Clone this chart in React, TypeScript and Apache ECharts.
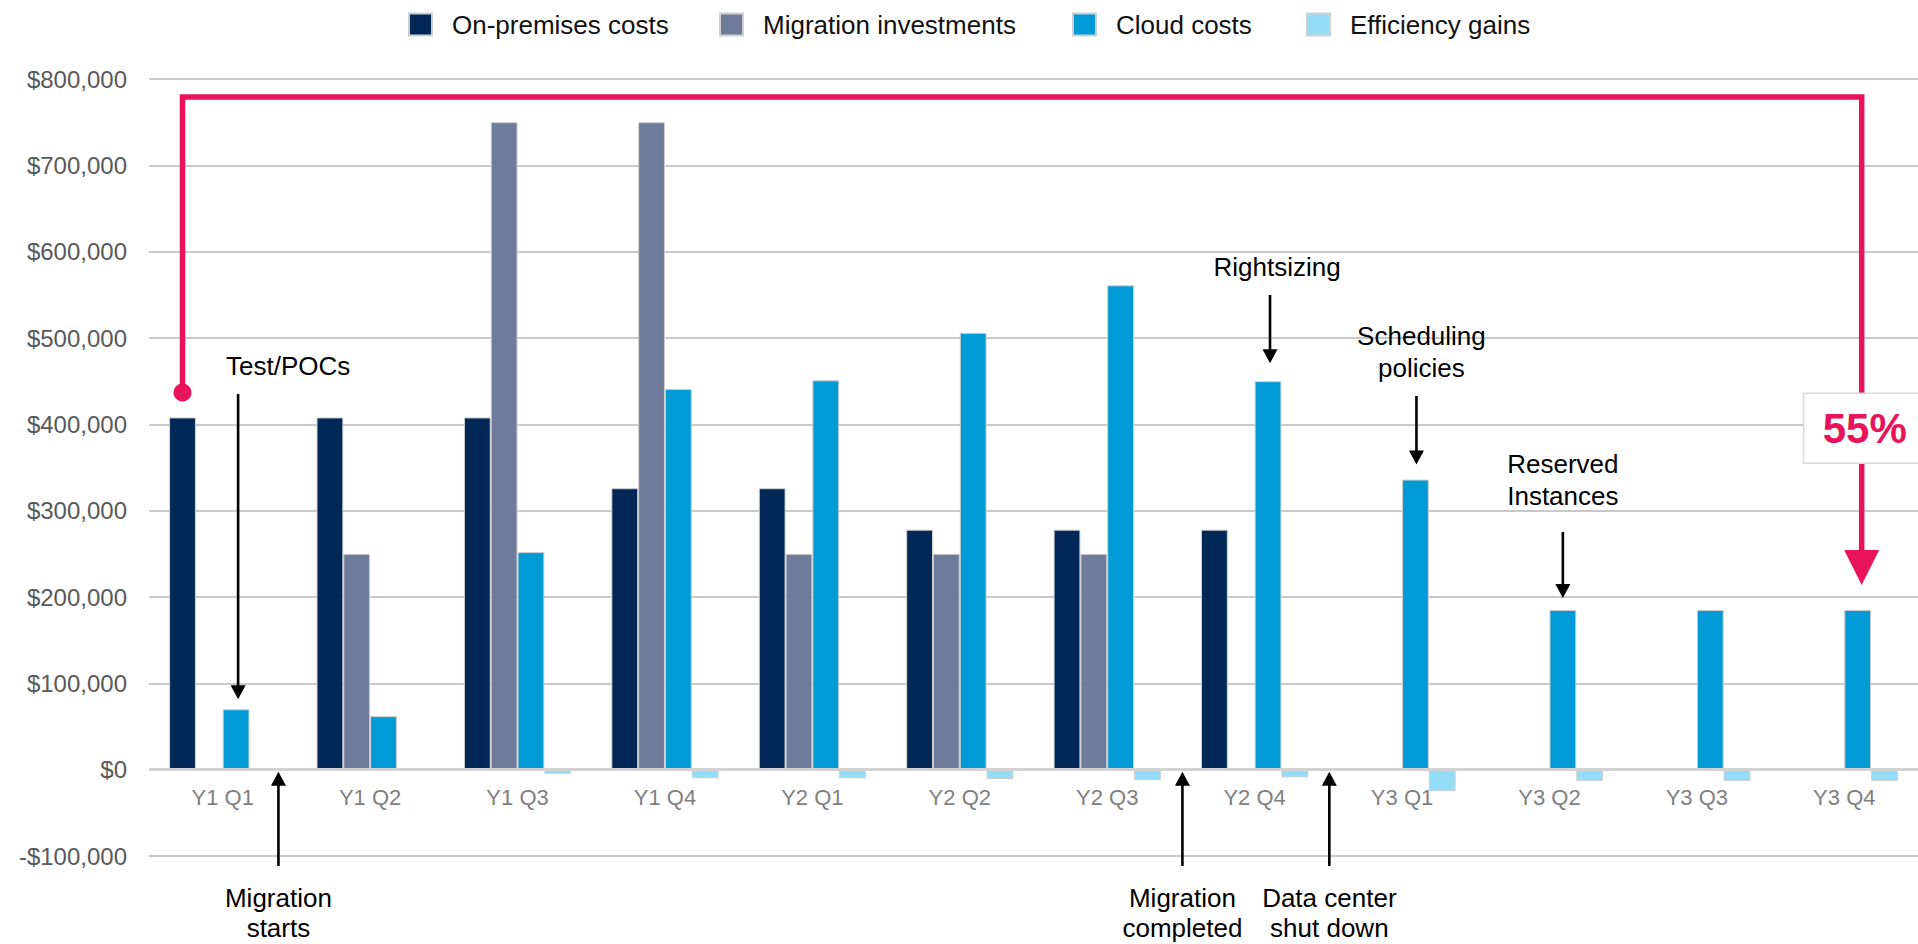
import React, { useEffect, useRef } from 'react';
import * as echarts from 'echarts';

const categories = ['Y1 Q1', 'Y1 Q2', 'Y1 Q3', 'Y1 Q4', 'Y2 Q1', 'Y2 Q2', 'Y2 Q3', 'Y2 Q4', 'Y3 Q1', 'Y3 Q2', 'Y3 Q3', 'Y3 Q4'];
const seriesNames = ['On-premises costs', 'Migration investments', 'Cloud costs', 'Efficiency gains'];
const onPremises = [408000, 408000, 408000, 326000, 326000, 278000, 278000, 278000, null, null, null, null];
const migration = [null, 250000, 750000, 750000, 250000, 250000, 250000, null, null, null, null, null];
const cloud = [70000, 62000, 252000, 441000, 451000, 506000, 561000, 450000, 336000, 185000, 185000, 185000];
const efficiency = [null, null, -5000, -10000, -10000, -11000, -12000, -9000, -25000, -13000, -13000, -13000];
const yTicks = { min: -100000, max: 800000, interval: 100000 };
const savingsLabel = '55%';

const colors = ['#002856', '#6E7B9B', '#009BD6', '#93DDF8'];
const FONT = "'Liberation Sans', Arial, sans-serif";
const RED = '#E8135A';

const fmtMoney = (v: number) =>
  (v < 0 ? '-$' : '$') + Math.abs(v).toString().replace(/\B(?=(\d{3})+(?!\d))/g, ',');

export default function App() {
  const ref = useRef<HTMLDivElement>(null);

  useEffect(() => {
    const chart = echarts.init(ref.current!, null, { renderer: 'svg' });
    const barWidth = 26.8;
    const legendLefts = [408, 719, 1072, 1306];
    const dataSets = [onPremises, migration, cloud, efficiency];

    chart.setOption({
      animation: false,
      backgroundColor: '#ffffff',
      textStyle: { fontFamily: FONT },
      legend: seriesNames.map((n, i) => ({
        data: [n],
        left: legendLefts[i],
        top: 11.5,
        padding: 0,
        itemWidth: 23,
        itemHeight: 22,
        icon: 'rect',
        textStyle: { fontSize: 26, color: '#111', fontFamily: FONT, padding: [0, 0, 0, 15] },
      })),
      grid: { left: 149, right: 0, top: 79, bottom: 88, containLabel: false },
      xAxis: {
        type: 'category',
        data: categories,
        axisLine: { show: false, onZero: false },
        axisTick: { show: false },
        axisLabel: { fontSize: 22, color: '#7f7f7f', margin: -70, fontFamily: FONT },
        splitLine: { show: false },
      },
      yAxis: {
        type: 'value',
        min: yTicks.min,
        max: yTicks.max,
        interval: yTicks.interval,
        axisLine: { show: false },
        axisTick: { show: false },
        axisLabel: {
          fontSize: 24,
          color: '#595959',
          margin: 22,
          fontFamily: FONT,
          formatter: (v: number) => fmtMoney(v),
        },
        splitLine: { lineStyle: { color: '#c9c9c9', width: 2 } },
      },
      series: seriesNames.map((n, i) => ({
        name: n,
        type: 'bar',
        data: dataSets[i],
        barWidth,
        barGap: '0%',
        itemStyle: { color: colors[i], borderColor: '#cfcfcf', borderWidth: 1 },
        ...(i === 0
          ? {
              markLine: {
                silent: true,
                symbol: 'none',
                label: { show: false },
                lineStyle: { color: '#d2d2d2', width: 3, type: 'solid' },
                data: [{ yAxis: 0 }],
              },
            }
          : {}),
      })),
    });

    const px = (ci: number, v: number) =>
      chart.convertToPixel({ xAxisIndex: 0, yAxisIndex: 0 }, [ci, v]) as number[];
    const off = (k: number) => (k - 1.5) * barWidth;
    const els: any[] = [];

    const blackArrow = (x: number, yStart: number, yTip: number) => {
      const dir = yTip > yStart ? 1 : -1;
      els.push({
        type: 'line', z: 100,
        shape: { x1: x, y1: yStart, x2: x, y2: yTip - dir * 10 },
        style: { stroke: '#000', lineWidth: 2.6 },
      });
      els.push({
        type: 'polygon', z: 100,
        shape: { points: [[x - 7.5, yTip - dir * 14], [x + 7.5, yTip - dir * 14], [x, yTip]] },
        style: { fill: '#000' },
      });
    };
    const note = (x: number, y: number, text: string) => {
      els.push({
        type: 'text', z: 100, x, y,
        style: {
          text, fill: '#000', fontSize: 26, fontFamily: FONT,
          textAlign: 'center', textVerticalAlign: 'middle', lineHeight: 32,
        },
      });
    };
    const noteBelow = (x: number, text: string) => {
      els.push({
        type: 'text', z: 100, x, y: 913,
        style: {
          text, fill: '#000', fontSize: 26, fontFamily: FONT,
          textAlign: 'center', textVerticalAlign: 'middle', lineHeight: 30,
        },
      });
    };

    const y0 = px(0, 0)[1];
    const catW = px(1, 0)[0] - px(0, 0)[0];

    // Test/POCs
    const tpX = px(0, 0)[0] + off(2) + 2;
    blackArrow(tpX, 394, px(0, cloud[0])[1] - 10);
    note(tpX + 50, 366, 'Test/POCs');

    // Rightsizing
    const rsX = px(7, 0)[0] + off(2) + 2;
    blackArrow(rsX, 295, px(7, cloud[7])[1] - 18);
    note(rsX + 7, 267, 'Rightsizing');

    // Scheduling policies
    const spX = px(8, 0)[0] + off(2) + 1;
    blackArrow(spX, 396, px(8, cloud[8])[1] - 15);
    note(spX + 5, 352, 'Scheduling\npolicies');

    // Reserved Instances
    const riX = px(9, 0)[0] + off(2);
    blackArrow(riX, 532, px(9, cloud[9])[1] - 12);
    note(riX, 480, 'Reserved\nInstances');

    // Bottom arrows
    const msX = px(0, 0)[0] + catW * 0.378;
    blackArrow(msX, 866, y0 + 2);
    noteBelow(msX, 'Migration\nstarts');

    const mcX = px(7, 0)[0] - catW / 2 + 1.5;
    blackArrow(mcX, 866, y0 + 2);
    noteBelow(mcX, 'Migration\ncompleted');

    const dcX = px(8, 0)[0] - catW / 2 + 1;
    blackArrow(dcX, 866, y0 + 2);
    noteBelow(dcX, 'Data center\nshut down');

    // Red savings bracket
    const x0 = px(0, 0)[0] + off(0);
    const yDot = px(0, onPremises[0] as number)[1] - 25;
    const yTop = px(0, yTicks.max)[1] + 18;
    const x1 = px(11, 0)[0] + off(2) + 4;
    const yTip = px(11, cloud[11])[1] - 25;
    els.push({
      type: 'polyline', z: 90,
      shape: { points: [[x0, yDot], [x0, yTop], [x1, yTop], [x1, yTip - 30]] },
      style: { stroke: RED, lineWidth: 5.5, fill: null, lineJoin: 'miter' },
    });
    els.push({ type: 'circle', z: 91, shape: { cx: x0, cy: yDot, r: 9 }, style: { fill: RED } });
    els.push({
      type: 'polygon', z: 91,
      shape: { points: [[x1 - 17.5, yTip - 35], [x1 + 17.5, yTip - 35], [x1, yTip]] },
      style: { fill: RED },
    });
    const yBox = px(0, 400000)[1] + 4;
    els.push({
      type: 'rect', z: 95,
      shape: { x: x1 - 58, y: yBox - 35, width: 200, height: 70 },
      style: { fill: '#ffffff', stroke: '#d9d9d9', lineWidth: 1.5 },
    });
    els.push({
      type: 'text', z: 96, x: x1 + 3, y: yBox,
      style: {
        text: savingsLabel, fill: RED, fontSize: 42, fontWeight: 'bold', fontFamily: FONT,
        textAlign: 'center', textVerticalAlign: 'middle',
      },
    });

    chart.setOption({ graphic: { elements: els } });
    return () => chart.dispose();
  }, []);

  return (
    <div
      ref={ref}
      style={{ position: 'fixed', left: 0, top: 0, width: '1918px', height: '944px', background: '#fff' }}
    />
  );
}
